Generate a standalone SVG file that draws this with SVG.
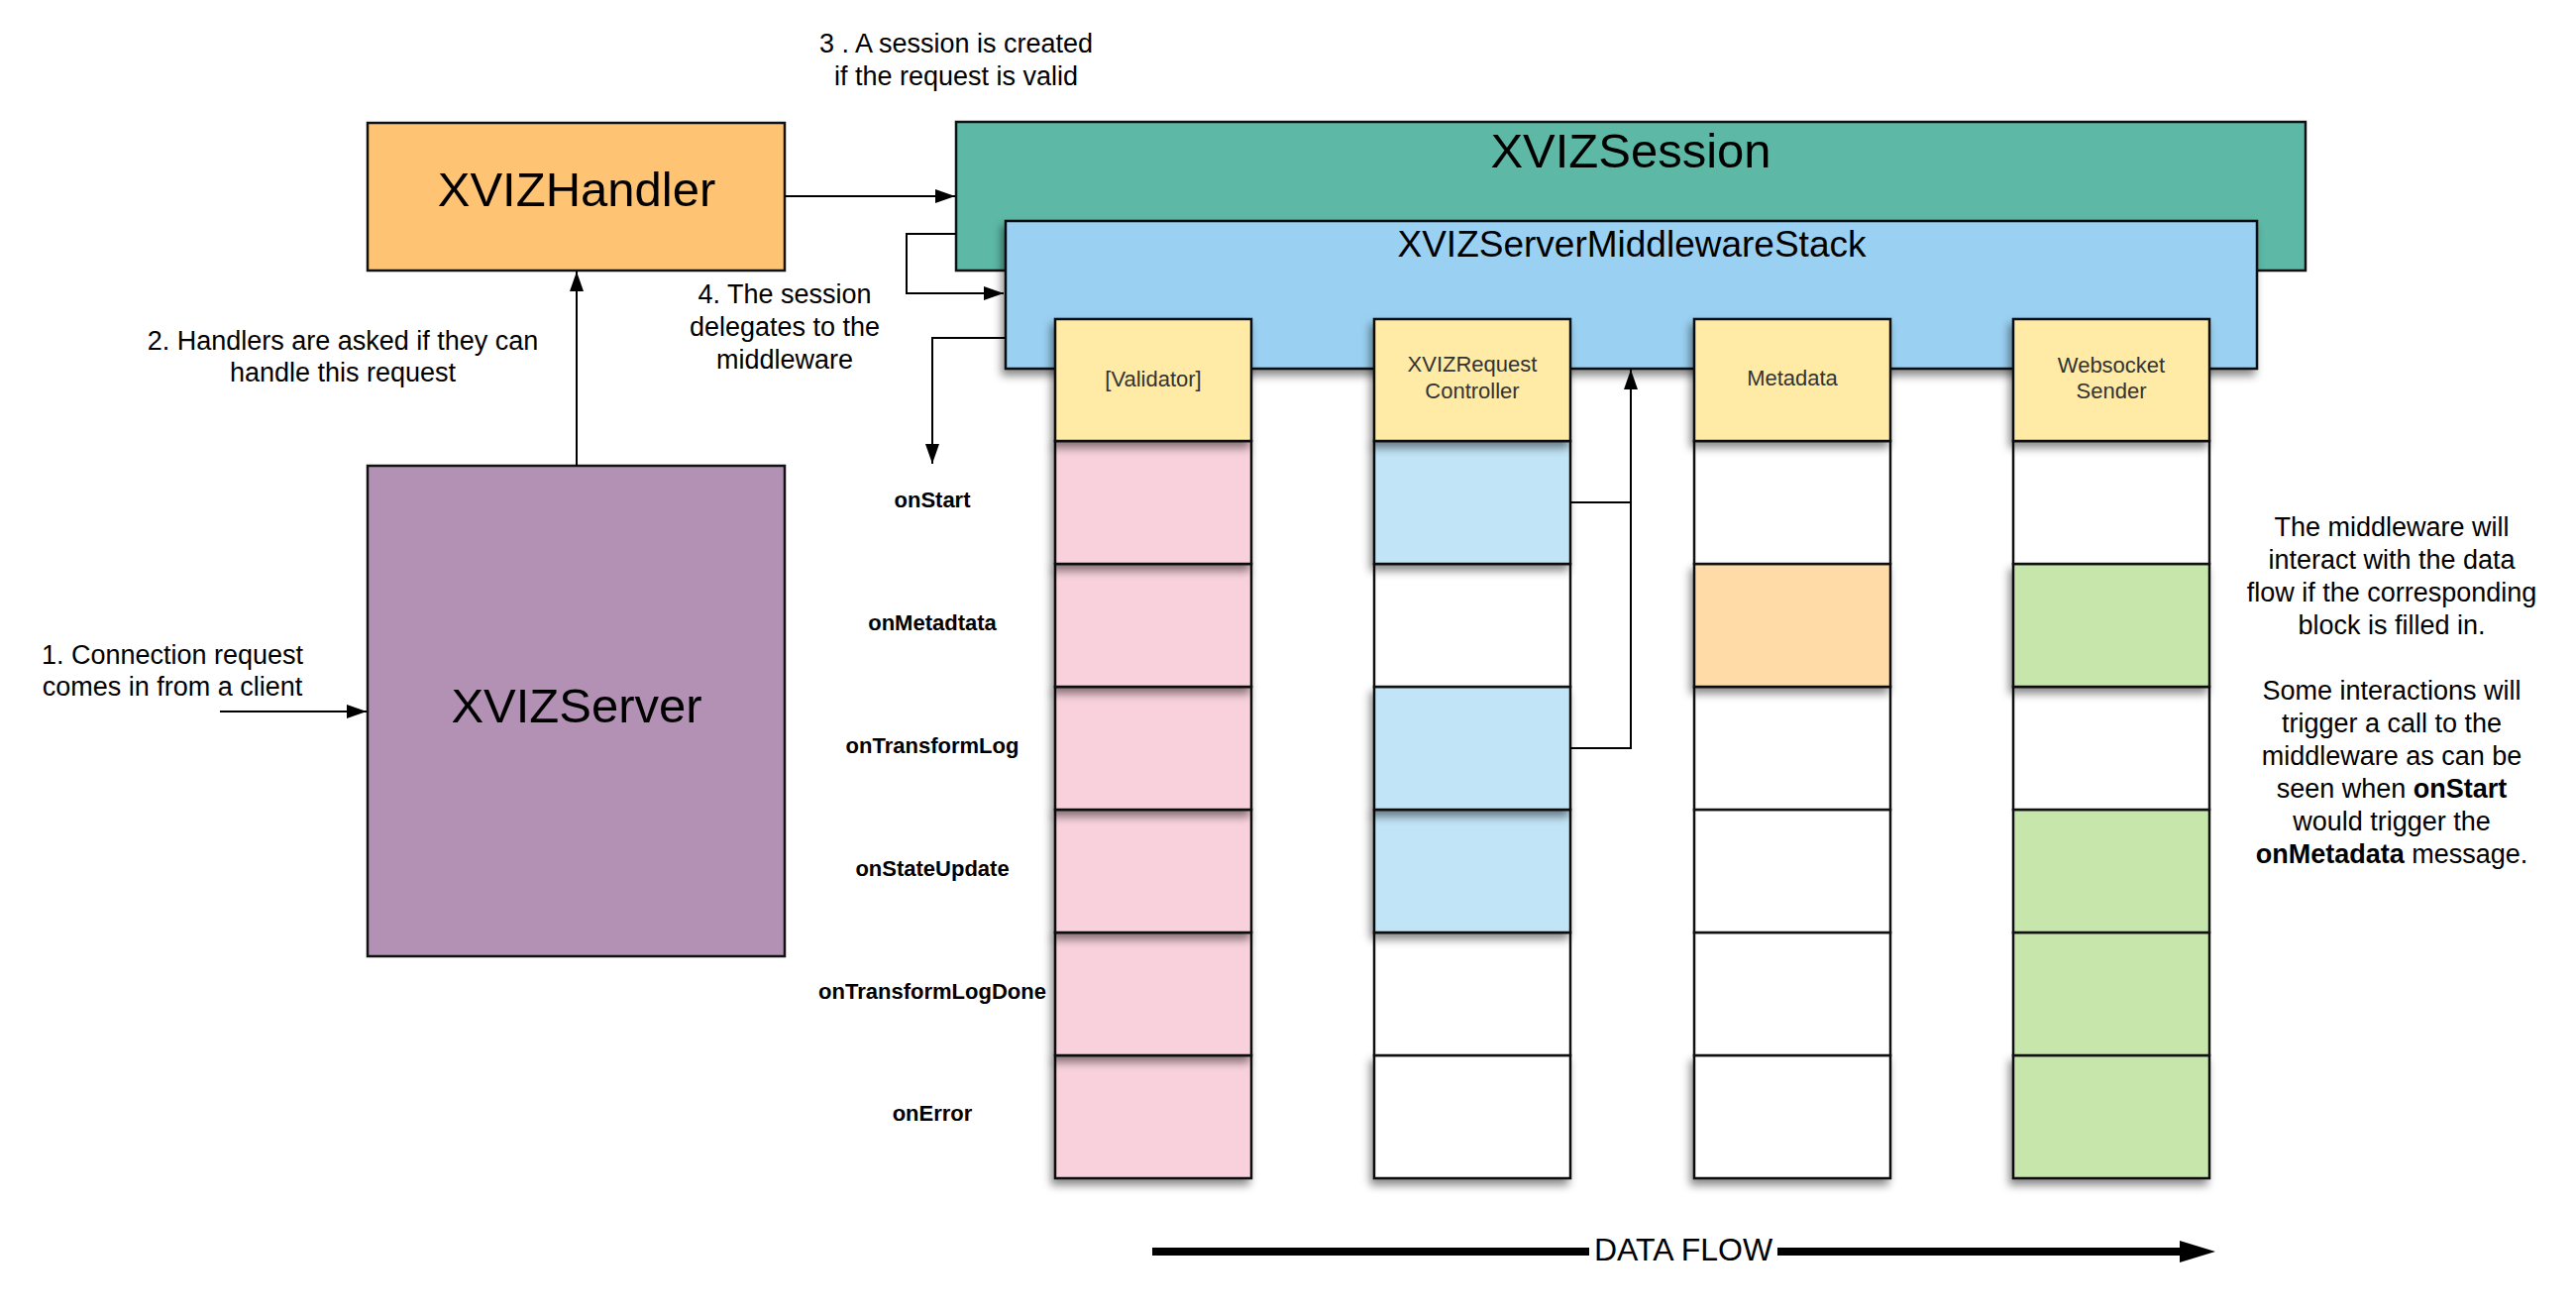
<svg xmlns="http://www.w3.org/2000/svg" width="2600" height="1326" viewBox="0 0 2600 1326">
<style>
  text { font-family: "Liberation Sans", Arial, sans-serif; fill: #000; }
  .note { font-size: 27px; text-anchor: middle; }
  .big { font-size: 49px; text-anchor: middle; }
  .hdr { font-size: 22px; text-anchor: middle; fill: #333; }
  .row { font-size: 22px; font-weight: bold; text-anchor: middle; }
  .box { stroke: #111; stroke-width: 2.5; }
  .cell { stroke: #111; stroke-width: 2.5; }
  .conn { fill: none; stroke: #000; stroke-width: 2; }
  .yel { fill: #FFEBA6; }
  .pink { fill: #F8D1DC; }
  .lblue { fill: #C1E4F6; }
  .white { fill: #FFFFFF; }
  .peach { fill: #FFDBA8; }
  .green { fill: #C6E6AC; }
</style>
<defs>
  <marker id="arr" markerUnits="userSpaceOnUse" markerWidth="20" markerHeight="14" refX="20" refY="7" orient="auto">
    <path d="M0,0 L20,7 L0,14 z" fill="#000"/>
  </marker>
  <filter id="sh" x="-20%" y="-20%" width="140%" height="160%">
    <feDropShadow dx="-3" dy="6" stdDeviation="4" flood-color="#000" flood-opacity="0.45"/>
  </filter>
</defs>
<rect x="0" y="0" width="2600" height="1326" fill="#fff"/>

<g id="note-3">
  <text class="note" x="965" y="53">3 . A session is created</text>
  <text class="note" x="965" y="86">if the request is valid</text>
</g>

<g id="xviz-handler">
  <rect class="box" x="371" y="124" width="421" height="149" fill="#FFC374"/>
  <text class="big" x="582" y="208">XVIZHandler</text>
</g>

<g id="xviz-server">
  <rect class="box" x="371" y="470" width="421" height="495" fill="#B291B4"/>
  <text class="big" x="582" y="729">XVIZServer</text>
</g>

<g id="note-1">
  <text class="note" x="174" y="670">1. Connection request</text>
  <text class="note" x="174" y="702">comes in from a client</text>
</g>

<g id="note-2">
  <text class="note" x="346" y="353">2. Handlers are asked if they can</text>
  <text class="note" x="346" y="385">handle this request</text>
</g>

<g id="note-4">
  <text class="note" x="792" y="306">4. The session</text>
  <text class="note" x="792" y="339">delegates to the</text>
  <text class="note" x="792" y="372">middleware</text>
</g>

<g id="xviz-session">
  <rect class="box" x="965" y="123" width="1362" height="150" fill="#5DB8A6"/>
  <text class="big" x="1646" y="169">XVIZSession</text>
</g>

<g id="middleware-stack">
  <rect class="box" x="1015" y="223" width="1263" height="149" fill="#9AD0F1" filter="url(#sh)"/>
  <text x="1647" y="259" font-size="37" text-anchor="middle">XVIZServerMiddlewareStack</text>
</g>

<g id="col-validator">
  <rect class="cell pink" x="1065" y="1065" width="198" height="124" filter="url(#sh)"/>
  <rect class="cell pink" x="1065" y="941" width="198" height="124" filter="url(#sh)"/>
  <rect class="cell pink" x="1065" y="817" width="198" height="124" filter="url(#sh)"/>
  <rect class="cell pink" x="1065" y="693" width="198" height="124" filter="url(#sh)"/>
  <rect class="cell pink" x="1065" y="569" width="198" height="124" filter="url(#sh)"/>
  <rect class="cell pink" x="1065" y="445" width="198" height="124" filter="url(#sh)"/>
  <rect class="cell yel" x="1065" y="322" width="198" height="123" filter="url(#sh)"/>
  <text class="hdr" x="1164" y="390">[Validator]</text>
</g>

<g id="col-controller">
  <rect class="cell white" x="1387" y="1065" width="198" height="124" filter="url(#sh)"/>
  <rect class="cell white" x="1387" y="941" width="198" height="124"/>
  <rect class="cell lblue" x="1387" y="817" width="198" height="124" filter="url(#sh)"/>
  <rect class="cell lblue" x="1387" y="693" width="198" height="124" filter="url(#sh)"/>
  <rect class="cell white" x="1387" y="569" width="198" height="124"/>
  <rect class="cell lblue" x="1387" y="445" width="198" height="124" filter="url(#sh)"/>
  <rect class="cell yel" x="1387" y="322" width="198" height="123" filter="url(#sh)"/>
  <text class="hdr" x="1486" y="375">XVIZRequest</text>
  <text class="hdr" x="1486" y="402">Controller</text>
</g>

<g id="col-metadata">
  <rect class="cell white" x="1710" y="1065" width="198" height="124" filter="url(#sh)"/>
  <rect class="cell white" x="1710" y="941" width="198" height="124"/>
  <rect class="cell white" x="1710" y="817" width="198" height="124"/>
  <rect class="cell white" x="1710" y="693" width="198" height="124"/>
  <rect class="cell peach" x="1710" y="569" width="198" height="124" filter="url(#sh)"/>
  <rect class="cell white" x="1710" y="445" width="198" height="124"/>
  <rect class="cell yel" x="1710" y="322" width="198" height="123" filter="url(#sh)"/>
  <text class="hdr" x="1809" y="389">Metadata</text>
</g>

<g id="col-websocket">
  <rect class="cell green" x="2032" y="1065" width="198" height="124" filter="url(#sh)"/>
  <rect class="cell green" x="2032" y="941" width="198" height="124"/>
  <rect class="cell green" x="2032" y="817" width="198" height="124"/>
  <rect class="cell white" x="2032" y="693" width="198" height="124"/>
  <rect class="cell green" x="2032" y="569" width="198" height="124" filter="url(#sh)"/>
  <rect class="cell white" x="2032" y="445" width="198" height="124"/>
  <rect class="cell yel" x="2032" y="322" width="198" height="123" filter="url(#sh)"/>
  <text class="hdr" x="2131" y="376">Websocket</text>
  <text class="hdr" x="2131" y="402">Sender</text>
</g>

<g id="row-labels">
  <text class="row" x="941" y="512">onStart</text>
  <text class="row" x="941" y="636">onMetadtata</text>
  <text class="row" x="941" y="760">onTransformLog</text>
  <text class="row" x="941" y="884">onStateUpdate</text>
  <text class="row" x="941" y="1008">onTransformLogDone</text>
  <text class="row" x="941" y="1131">onError</text>
</g>

<g id="side-note">
  <text class="note" x="2414" y="541">The middleware will</text>
  <text class="note" x="2414" y="574">interact with the data</text>
  <text class="note" x="2414" y="607">flow if the corresponding</text>
  <text class="note" x="2414" y="640">block is filled in.</text>
  <text class="note" x="2414" y="706">Some interactions will</text>
  <text class="note" x="2414" y="739">trigger a call to the</text>
  <text class="note" x="2414" y="772">middleware as can be</text>
  <text class="note" x="2414" y="805">seen when <tspan font-weight="bold">onStart</tspan></text>
  <text class="note" x="2414" y="838">would trigger the</text>
  <text class="note" x="2414" y="871"><tspan font-weight="bold">onMetadata</tspan> message.</text>
</g>

<g id="connectors">
  <line class="conn" x1="222" y1="718" x2="370" y2="718" marker-end="url(#arr)"/>
  <line class="conn" x1="582" y1="470" x2="582" y2="274" marker-end="url(#arr)"/>
  <line class="conn" x1="792" y1="198" x2="964" y2="198" marker-end="url(#arr)"/>
  <path class="conn" d="M965,236 H915 V296 H1013" marker-end="url(#arr)"/>
  <path class="conn" d="M1015,341 H941 V468" marker-end="url(#arr)"/>
  <path class="conn" d="M1585,507 H1646"/>
  <path class="conn" d="M1585,755 H1646 V373" marker-end="url(#arr)"/>
</g>

<g id="data-flow">
  <line x1="1163" y1="1263" x2="1604" y2="1263" stroke="#000" stroke-width="8"/>
  <line x1="1794" y1="1263" x2="2204" y2="1263" stroke="#000" stroke-width="8"/>
  <polygon points="2200,1252 2236,1263 2200,1274" fill="#000"/>
  <text x="1699" y="1272" font-size="32" text-anchor="middle">DATA FLOW</text>
</g>
</svg>
